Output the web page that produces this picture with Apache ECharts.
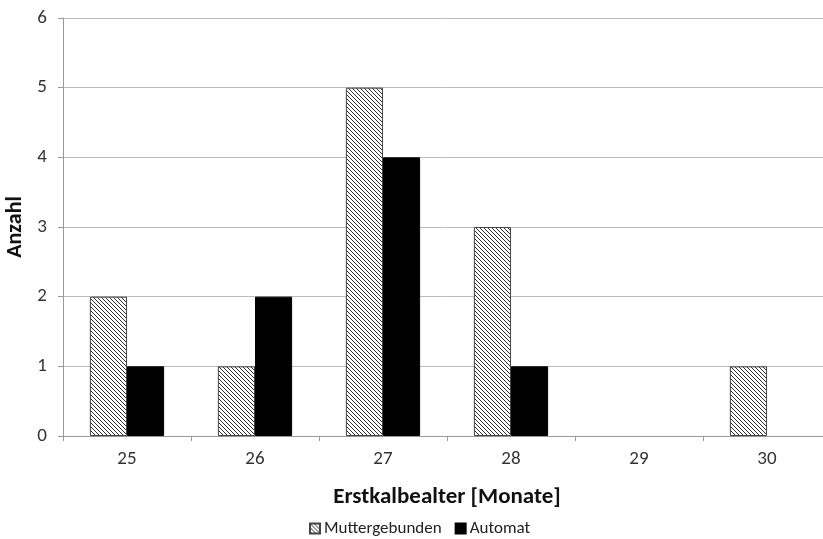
<!DOCTYPE html>
<html><head><meta charset="utf-8">
<script src="https://cdn.jsdelivr.net/npm/echarts@6/dist/echarts.min.js"></script>
<style>html,body{margin:0;padding:0;background:#fff}#c{width:823px;height:539px}</style>
</head><body><div id="c"></div>
<script>
const categories = ['25','26','27','28','29','30'];
const muttergebunden = [2,1,5,3,0,1];
const automat = [1,2,4,1,0,0];
const yTicks = [0,1,2,3,4,5,6];

function hatch(){
  const c = document.createElement('canvas');
  c.width = 4; c.height = 4;
  const g = c.getContext('2d');
  g.fillStyle = '#fff'; g.fillRect(0,0,4,4);
  g.strokeStyle = '#333'; g.lineWidth = 1;
  g.beginPath();
  g.moveTo(-1,-1); g.lineTo(5,5);
  g.moveTo(-1,3); g.lineTo(1,5);
  g.moveTo(3,-1); g.lineTo(5,1);
  g.stroke();
  return c;
}
const nz = a => a.map(v => v === 0 ? null : v);
const font = "Carlito, 'Open Sans', 'Noto Sans', sans-serif";
const chart = echarts.init(document.getElementById('c'));
chart.setOption({
  animation:false,
  textStyle:{fontFamily:font},
  grid:{left:63,right:-8,top:18,bottom:103,containLabel:false,outerBoundsMode:'none'},
  legend:{bottom:2,left:309,padding:0,itemWidth:10,itemHeight:10,itemGap:13,
    textStyle:{fontSize:17,color:'#222',fontFamily:font,padding:[0,0,0,-1]},
    data:[{name:'Muttergebunden',icon:'rect'},{name:'Automat',icon:'rect'}]},
  xAxis:{type:'category',data:categories,
    name:'Erstkalbealter [Monate]',nameLocation:'middle',nameGap:50,
    nameTextStyle:{fontSize:23,fontWeight:'bold',color:'#111',fontFamily:font,padding:[0,0,0,0]},
    axisLine:{lineStyle:{color:'#999'}},
    axisTick:{show:true,length:5,lineStyle:{color:'#999'}},
    axisLabel:{fontSize:19,color:'#333',margin:14}},
  yAxis:{type:'value',min:0,max:6,interval:1,
    name:'Anzahl',nameLocation:'middle',nameGap:28,
    nameTextStyle:{fontSize:22,fontWeight:'bold',color:'#111',fontFamily:font},
    axisLine:{show:true,lineStyle:{color:'#999'}},
    axisTick:{show:true,length:5,lineStyle:{color:'#999'}},
    axisLabel:{fontSize:19,color:'#333',margin:16},
    splitLine:{lineStyle:{color:'#bbb'}}},
  series:[
    {name:'Muttergebunden',type:'bar',data:nz(muttergebunden),barGap:'0%',barCategoryGap:'42%',
      itemStyle:{color:{image:hatch(),repeat:'repeat'},borderColor:'#444',borderWidth:1}},
    {name:'Automat',type:'bar',data:nz(automat),
      itemStyle:{color:'#000',borderColor:'#000',borderWidth:1}}
  ]
});
</script></body></html>
